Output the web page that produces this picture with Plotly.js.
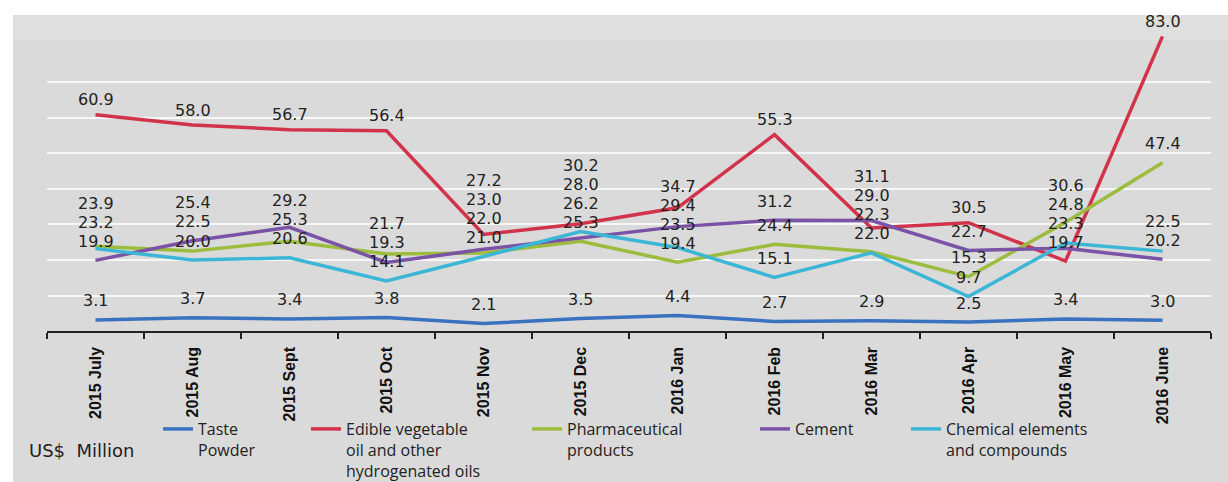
<!DOCTYPE html>
<html>
<head>
<meta charset="utf-8">
<script src="https://cdn.plot.ly/plotly-3.0.1.min.js"></script>
<style>
  html, body { margin: 0; padding: 0; background: #ffffff; }
  #bg { position: absolute; left: 13px; top: 15px; width: 1215px; height: 467px; background: #dadada; }
  #bgtop { position: absolute; left: 13px; top: 15px; width: 1215px; height: 25px; background: #dfdfdf; }
  #chart { position: absolute; left: 0; top: 0; width: 1228px; height: 482px; }
</style>
</head>
<body>
<div id="bg"></div>
<div id="bgtop"></div>
<div id="chart"></div>
<script>
const months = ['2015 July','2015 Aug','2015 Sept','2015 Oct','2015 Nov','2015 Dec','2016 Jan','2016 Feb','2016 Mar','2016 Apr','2016 May','2016 June'];
const tastePowder = [3.1, 3.7, 3.4, 3.8, 2.1, 3.5, 4.4, 2.7, 2.9, 2.5, 3.4, 3.0];
const edibleOil   = [60.9, 58.0, 56.7, 56.4, 27.2, 30.2, 34.7, 55.3, 29.0, 30.5, 19.7, 83.0];
const pharma      = [23.9, 22.5, 25.3, 21.7, 22.0, 25.3, 19.4, 24.4, 22.3, 15.3, 30.6, 47.4];
const cement      = [19.9, 25.4, 29.2, 19.3, 23.0, 26.2, 29.4, 31.2, 31.1, 22.7, 23.3, 20.2];
const chemicals   = [23.2, 20.0, 20.6, 14.1, 21.0, 28.0, 23.5, 15.1, 22.0, 9.7, 24.8, 22.5];

const seriesNames = ['Taste<br>Powder', 'Edible vegetable<br>oil and other<br>hydrogenated oils', 'Pharmaceutical<br>products', 'Cement', 'Chemical elements<br>and compounds'];
const seriesValues = [tastePowder, edibleOil, pharma, cement, chemicals];
const seriesColors = ['#3a72c0', '#d3334a', '#9cbc3e', '#7a52a6', '#3cb6d6'];
const legendIds = ['legend', 'legend2', 'legend3', 'legend4', 'legend5'];
const legendX = [158, 306, 527, 755, 906];

const W = 1228, H = 482;
const M = { l: 47, r: 17, t: 20, b: 151, autoexpand: false };
const plotW = W - M.l - M.r, plotH = H - M.t - M.b;
const yMax = 87.6;
const pxPerUnit = plotH / yMax;

const traces = seriesValues.map((vals, i) => ({
  type: 'scatter', mode: 'lines', x: months, y: vals, name: seriesNames[i],
  line: { color: seriesColors[i], width: 3.5 }, legend: legendIds[i], hoverinfo: 'x+y'
}));

// stacked data labels
const annotations = [];
months.forEach((m, j) => {
  const items = seriesValues.map(v => v[j]).sort((a, b) => a - b);
  let prev = -1e9;
  items.forEach((v, k) => {
    const p = v * pxPerUnit;
    const base = (k === items.length - 1) ? 15 : 19;
    let L = Math.max(p + base, prev + 19);
    prev = L;
    annotations.push({
      x: m, y: v, xref: 'x', yref: 'y', text: v.toFixed(1), showarrow: false,
      yshift: L - p, yanchor: 'middle', xanchor: 'center',
      font: { family: 'DejaVu Sans', size: 16, color: '#222222' }
    });
  });
});
annotations.push({
  xref: 'paper', yref: 'paper', x: (27 - M.l) / plotW, y: (H - M.b - 450) / plotH,
  xanchor: 'left', yanchor: 'middle', showarrow: false,
  text: 'US$\u00a0\u00a0Million', font: { family: 'DejaVu Sans', size: 18, color: '#222222' }
});

const layout = {
  width: W, height: H, margin: M,
  paper_bgcolor: 'rgba(0,0,0,0)', plot_bgcolor: 'rgba(0,0,0,0)',
  showlegend: true,
  xaxis: {
    type: 'category', range: [-0.5, 11.5], showline: true, linecolor: '#222222', linewidth: 1.5,
    ticks: 'outside', tickson: 'boundaries', ticklen: 6, tickcolor: '#222222', tickwidth: 1.5,
    tickangle: -90, ticklabelstandoff: 8, showgrid: false, zeroline: false, automargin: false,
    tickfont: { family: 'Liberation Sans, Arial', size: 16, color: '#111111', weight: 'bold' }
  },
  yaxis: {
    range: [0, yMax], showline: false, showticklabels: false, ticks: '', automargin: false,
    tickmode: 'array', tickvals: [10, 20, 30, 40, 50, 60, 70],
    showgrid: true, gridcolor: '#f7f7f7', gridwidth: 2, zeroline: false
  },
  annotations: annotations
};
legendIds.forEach((id, i) => {
  layout[id] = {
    x: (legendX[i] - M.l) / plotW, xanchor: 'left',
    y: (H - M.b - 412) / plotH, yanchor: 'top',
    bgcolor: 'rgba(0,0,0,0)', borderwidth: 0, valign: 'top',
    font: { family: 'Open Sans', size: 16, color: '#222222' }
  };
});

Plotly.newPlot('chart', traces, layout, { staticPlot: true });
</script>
</body>
</html>
